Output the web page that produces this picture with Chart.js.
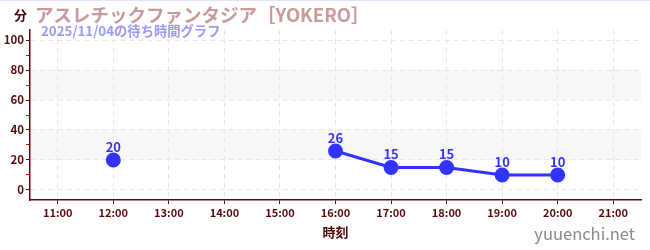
<!DOCTYPE html>
<html><head><meta charset="utf-8">
<script src="https://cdn.jsdelivr.net/npm/chart.js@4/dist/chart.umd.min.js"></script>
<style>
html,body{margin:0;padding:0;background:#fff;}
#wrap{position:relative;width:650px;height:250px;}
#top{position:absolute;left:0;top:0;width:650px;height:1px;background:#e4e4fb;}
</style></head>
<body><div id="wrap"><canvas id="c" width="650" height="250"></canvas><div id="top"></div></div>
<script>
const titleText = 'アスレチックファンタジア［YOKERO］';
const subtitleText = '2025/11/04の待ち時間グラフ';
const yUnit = '分';
const xTitle = '時刻';
const watermark = 'yuuenchi.net';
const hours = [12, 13, 14, 15, 16, 17, 18, 19, 20];
const waits = [20, null, null, null, 26, 15, 15, 10, 10];
const xTickHours = [11, 12, 13, 14, 15, 16, 17, 18, 19, 20, 21];
const yTickValues = [0, 10, 20, 30, 40, 50, 60, 70, 80, 90, 100];
const bands = [[20, 40], [60, 80]];

const FONT = '"Noto Sans CJK JP", "Noto Sans", sans-serif';
const AXIS = '#5a0a0a';

const bgPlugin = {
  id: 'bg',
  beforeDraw(chart) {
    const {ctx, chartArea: a, scales: {y}} = chart;
    ctx.save();
    ctx.fillStyle = '#f7f7f7';
    bands.forEach(([lo, hi]) => {
      const y1 = y.getPixelForValue(hi), y2 = y.getPixelForValue(lo);
      ctx.fillRect(a.left, y1, a.right - a.left, y2 - y1);
    });
    ctx.restore();
  },
  afterDraw(chart) {
    const {ctx, chartArea: a} = chart;
    ctx.save();
    ctx.textBaseline = 'alphabetic';
    ctx.fillStyle = '#4a0505';
    ctx.font = 'bold 13px ' + FONT;
    ctx.textAlign = 'left';
    ctx.fillText(yUnit, 14, 20);
    ctx.fillStyle = '#c99a9a';
    ctx.font = 'bold 18.5px ' + FONT;
    ctx.fillText(titleText, 35, 22);
    ctx.fillStyle = '#9b9bf5';
    ctx.font = 'bold 13.3px ' + FONT;
    ctx.fillText(subtitleText, 41, 36);
    ctx.fillStyle = '#4a0505';
    ctx.font = 'bold 13px ' + FONT;
    ctx.textAlign = 'center';
    ctx.fillText(xTitle, (a.left + a.right) / 2, 237);
    ctx.fillStyle = '#8a8a8a';
    ctx.font = '16.5px ' + FONT;
    ctx.textAlign = 'right';
    ctx.fillText(watermark, 635, 240);
    // data labels
    const meta = chart.getDatasetMeta(0);
    ctx.fillStyle = '#3535f0';
    ctx.font = 'bold 13px ' + FONT;
    ctx.textAlign = 'center';
    meta.data.forEach((pt, i) => {
      if (waits[i] == null) return;
      ctx.fillText(String(waits[i]), pt.x, pt.y - 8);
    });
    ctx.restore();
  }
};

new Chart(document.getElementById('c'), {
  type: 'line',
  data: {
    datasets: [{
      data: hours.map((h, i) => ({x: h, y: waits[i]})),
      borderColor: '#3333ff',
      backgroundColor: '#3333ff',
      borderWidth: 3,
      pointRadius: 6,
      pointHoverRadius: 6,
      spanGaps: false,
      tension: 0
    }]
  },
  options: {
    responsive: false,
    animation: false,
    layout: {padding: {left: 0, right: 9, top: 30, bottom: 0}},
    plugins: {legend: {display: false}, tooltip: {enabled: false}},
    scales: {
      x: {
        type: 'linear',
        min: 10.5, max: 21.5,
        afterBuildTicks(s) { s.ticks = xTickHours.map(v => ({value: v})); },
        afterFit(s) { s.height = 50; },
        ticks: {
          color: AXIS,
          font: {family: FONT, size: 11, weight: 'bold'},
          padding: 2,
          maxRotation: 0,
          callback: v => String(v).padStart(2, '0') + ':00'
        },
        grid: {
          color: '#e6e6e6',
          tickColor: '#222',
          tickLength: 4,
          lineWidth: 1
        },
        border: {color: AXIS, width: 1.5, dash: [5, 4]}
      },
      y: {
        min: -6.67, max: 106.67,
        afterBuildTicks(s) { s.ticks = yTickValues.map(v => ({value: v})); },
        afterFit(s) { s.width = 30; },
        ticks: {
          color: AXIS,
          font: {family: FONT, size: 11.5, weight: 'bold'},
          padding: 2,
          callback: v => (v % 20 === 0 ? String(v) : '')
        },
        grid: {
          color: c => (c.tick && c.tick.value % 20 === 0 ? '#e6e6e6' : 'rgba(0,0,0,0)'),
          tickColor: c => (c.tick && c.tick.value % 20 === 0 ? '#222' : '#e00000'),
          tickLength: 4,
          lineWidth: 1
        },
        border: {color: AXIS, width: 1.5, dash: [5, 4]}
      }
    }
  },
  plugins: [bgPlugin]
});
</script>
</body></html>
